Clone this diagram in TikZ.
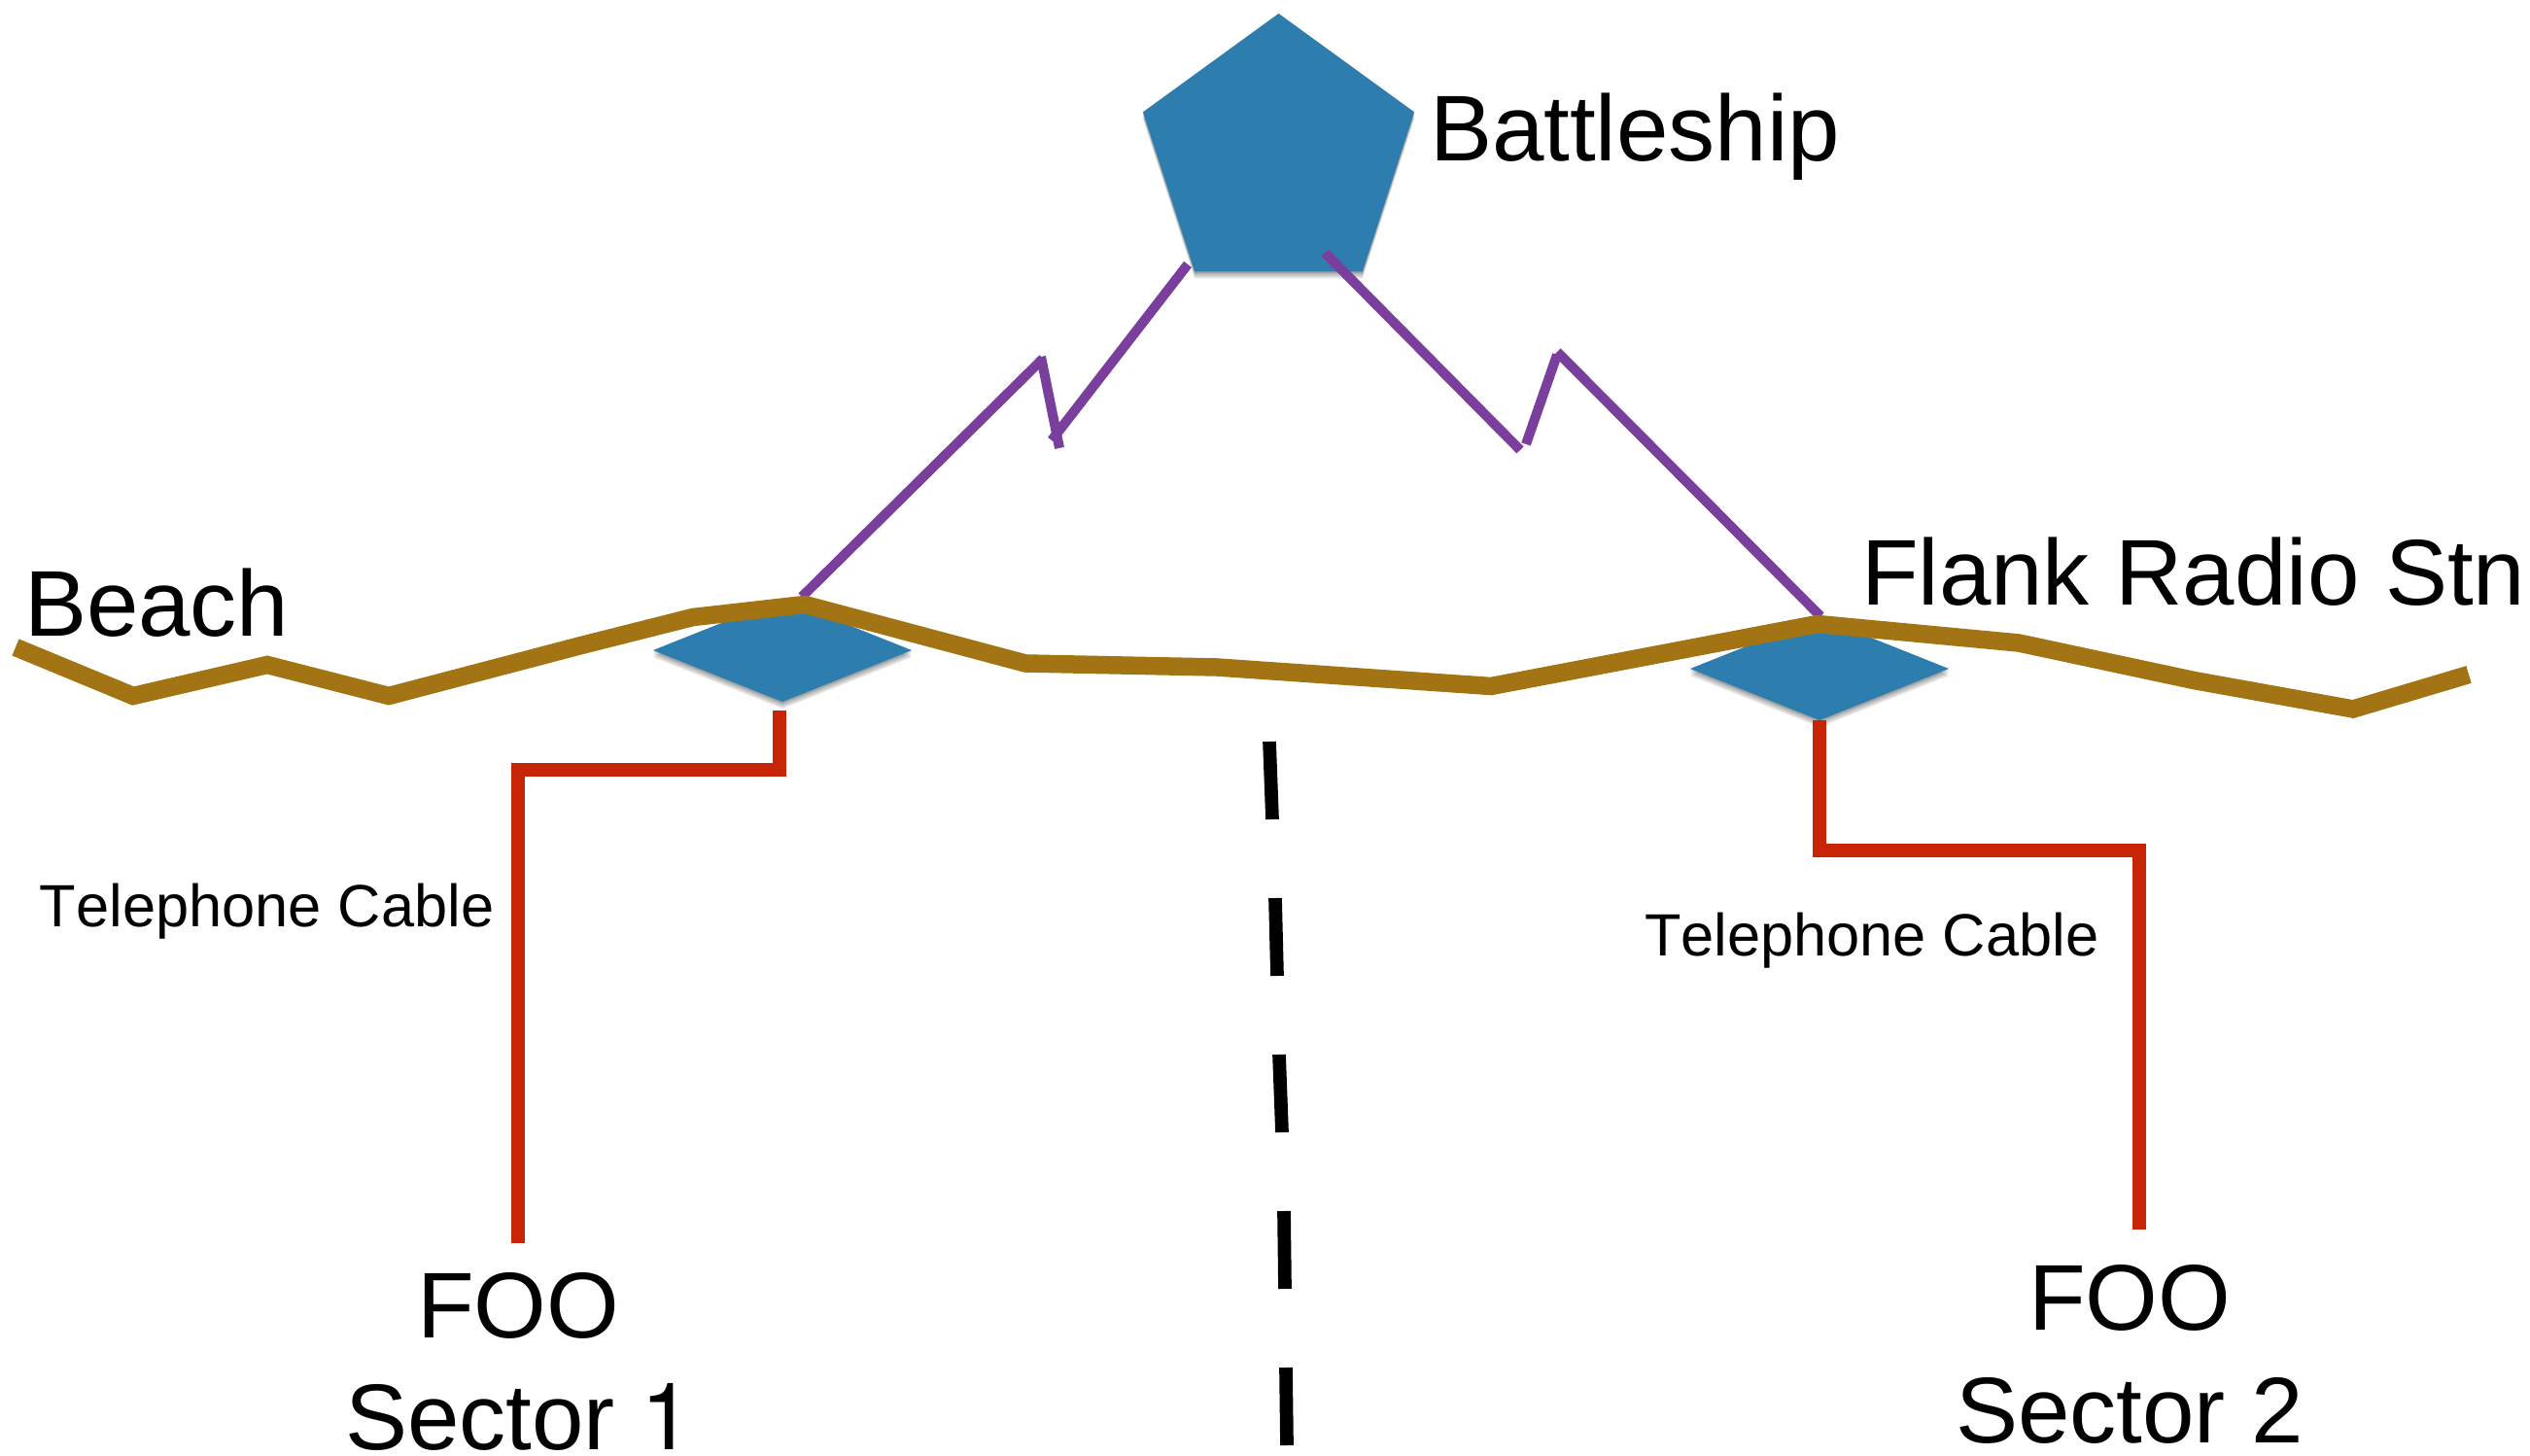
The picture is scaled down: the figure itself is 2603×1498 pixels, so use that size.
\documentclass[tikz,border=0pt]{standalone}
\usepackage{fontspec}
\setmainfont[Kerning=Off]{Liberation Sans}
\newfontfamily\digitfont[Kerning=Off]{TeX Gyre Heros}
\usetikzlibrary{shapes.geometric}
\definecolor{shapeblue}{HTML}{2D7EAE}
\definecolor{radiopurple}{HTML}{7A3F9D}
\definecolor{beachbrown}{HTML}{A37414}
\definecolor{cablered}{HTML}{C72506}
\tikzset{
  softcopy/.style={fill=black,opacity=.11},
  shipshape/.style={regular polygon,regular polygon sides=5,minimum size=2.934cm,inner sep=0pt,outer sep=0pt},
  stationshape/.style={diamond,minimum width=2.66cm,minimum height=1.06cm,inner sep=0pt,outer sep=0pt,shape aspect=2.5},
  radioline/.style={draw=radiopurple,line width=.1cm,line cap=butt},
  beachline/.style={draw=beachbrown,line width=.185cm,line cap=butt,line join=miter},
  cableline/.style={draw=cablered,line width=.137cm,line cap=butt,line join=miter},
  boundary/.style={draw=black,line width=.137cm,line cap=butt},
  biglabel/.style={anchor=base west,inner sep=0pt,outer sep=0pt,text=black,font=\fontsize{27.32pt}{32pt}\selectfont},
  smalllabel/.style={anchor=base west,inner sep=0pt,outer sep=0pt,text=black,font=\fontsize{17.45pt}{20pt}\selectfont}
}
\begin{document}
\begin{tikzpicture}[x=0.01cm,y=-0.01cm]
\useasboundingbox (0,0) rectangle (2603,1498);
% shapes
\path node[shipshape] (ship) at (1315.5,160.7) {}
      node[stationshape] (leftstation) at (805,669) {}
      node[stationshape] (rightstation) at (1872,688) {};
\foreach \d in {.07,.05,.03,.015}{
  \fill[softcopy,transform canvas={yshift=-\d cm}] (ship.corner 1) -- (ship.corner 2) -- (ship.corner 3) -- (ship.corner 4) -- (ship.corner 5) -- cycle;
  \fill[softcopy,transform canvas={yshift=-\d cm}] (leftstation.north) -- (leftstation.west) -- (leftstation.south) -- (leftstation.east) -- cycle;
  \fill[softcopy,transform canvas={yshift=-\d cm}] (rightstation.north) -- (rightstation.west) -- (rightstation.south) -- (rightstation.east) -- cycle;
}
\fill[shapeblue] (ship.corner 1) -- (ship.corner 2) -- (ship.corner 3) -- (ship.corner 4) -- (ship.corner 5) -- cycle;
\fill[shapeblue] (leftstation.north) -- (leftstation.west) -- (leftstation.south) -- (leftstation.east) -- cycle;
\fill[shapeblue] (rightstation.north) -- (rightstation.west) -- (rightstation.south) -- (rightstation.east) -- cycle;
% radio links
\coordinate (la) at (1222,272);
\coordinate (lb) at (1082,453);
\coordinate (lc) at (1090,461);
\coordinate (ld) at (1071,367);
\coordinate (ldd) at (1073,369);
\coordinate (le) at (825,614);
\draw[radioline] (la) -- (lb);
\draw[radioline] (lc) -- (ld);
\draw[radioline] (ldd) -- (le);
\coordinate (ra) at (1363,260);
\coordinate (rb) at (1564,463);
\coordinate (rc) at (1570,457);
\coordinate (rd) at (1602,365);
\coordinate (re) at (1602,362);
\coordinate (rf) at (1873,634);
\draw[radioline] (ra) -- (rb);
\draw[radioline] (rc) -- (rd);
\draw[radioline] (re) -- (rf);
% beach
\coordinate (b1) at (16,666);
\coordinate (b2) at (137,716);
\coordinate (b3) at (275,684);
\coordinate (b4) at (400,716);
\coordinate (b5) at (598,664);
\coordinate (b6) at (713,635);
\coordinate (b7) at (828,622);
\coordinate (b8) at (1055,682.5);
\coordinate (b9) at (1252,686.5);
\coordinate (b10) at (1534,706);
\coordinate (b11) at (1870,642);
\coordinate (b12) at (2077,661.5);
\coordinate (b13) at (2257,700);
\coordinate (b14) at (2421,729.5);
\coordinate (b15) at (2540,694);
\draw[beachline] (b1) -- (b2) -- (b3) -- (b4) -- (b5) -- (b6) -- (b7) -- (b8) -- (b9) -- (b10) -- (b11) -- (b12) -- (b13) -- (b14) -- (b15);
% telephone cables
\coordinate (c1) at (802,731);
\coordinate (c2) at (802,792);
\coordinate (c3) at (533,792);
\coordinate (c4) at (533,1279);
\draw[cableline] (c1) -- (c2) -- (c3) -- (c4);
\coordinate (d2) at (1872,875);
\coordinate (d3) at (2201,875);
\coordinate (d4) at (2201,1265);
\draw[cableline] (rightstation.south) -- (d2) -- (d3) -- (d4);
% sector boundary
\coordinate (s1a) at (1306,763);
\coordinate (s1b) at (1309,843);
\coordinate (s2a) at (1312,924);
\coordinate (s2b) at (1314,1004);
\coordinate (s3a) at (1316,1085);
\coordinate (s3b) at (1319,1165);
\coordinate (s4a) at (1321,1246);
\coordinate (s4b) at (1322,1326);
\coordinate (s5a) at (1323,1407);
\coordinate (s5b) at (1324,1487);
\draw[boundary] (s1a) -- (s1b);
\draw[boundary] (s2a) -- (s2b);
\draw[boundary] (s3a) -- (s3b);
\draw[boundary] (s4a) -- (s4b);
\draw[boundary] (s5a) -- (s5b);
% labels
\node[biglabel] (battleship) at (1471,166) {Battleship};
\node[biglabel] (flank) at (1915,623) {Flank Radio Stn};
\node[biglabel] (beach) at (25,655) {Beach};
\node[biglabel] (foo1) at (429,1376) {FOO};
\node[biglabel] (sector1) at (355,1491) {Sector {\digitfont 1}};
\node[biglabel] (foo2) at (2087,1368) {FOO};
\node[biglabel] (sector2) at (2012,1484) {Sector 2};
\node[smalllabel] (tel1) at (41,954) {Telephone Cable};
\node[smalllabel] (tel2) at (1692,983) {Telephone Cable};
\end{tikzpicture}
\end{document}
